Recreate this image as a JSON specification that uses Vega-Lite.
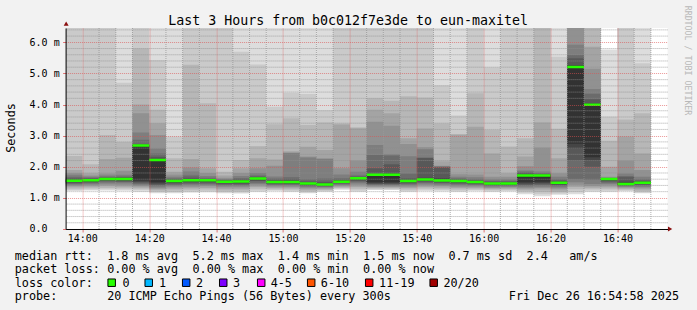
{
"$schema": "https://vega.github.io/schema/vega-lite/v6.json",
"autosize": {"type": "pad"},
"padding": {"left": 5.6, "top": 5, "right": 6, "bottom": 0},
"background": "#f2f2f2",
"spacing": 0,
"bounds": "flush",
"config": {"font": "DejaVu Sans Mono", "view": {"stroke": null}, "axis": {"labelOverlap": false, "labelFlush": false}},
"datasets": {
"smoke": [
{"t":"2025-12-26T13:55","e":"2025-12-26T14:00","p1":1.22,"p2":1.25,"p3":1.29,"p4":1.34,"p5":1.38,"p6":1.42,"p7":1.45,"p8":1.48,"p9":1.51,"p10":1.53,"p11":1.55,"p12":1.59,"p13":1.63,"p14":1.68,"p15":1.74,"p16":1.80,"p17":1.90,"p18":2.35,"p19":7,"p20":7},
{"t":"2025-12-26T14:00","e":"2025-12-26T14:05","p1":1.24,"p2":1.27,"p3":1.31,"p4":1.36,"p5":1.40,"p6":1.44,"p7":1.47,"p8":1.50,"p9":1.53,"p10":1.55,"p11":1.57,"p12":1.60,"p13":1.62,"p14":1.65,"p15":1.68,"p16":1.72,"p17":1.79,"p18":2.08,"p19":7,"p20":7},
{"t":"2025-12-26T14:05","e":"2025-12-26T14:10","p1":1.24,"p2":1.28,"p3":1.32,"p4":1.37,"p5":1.42,"p6":1.46,"p7":1.50,"p8":1.54,"p9":1.57,"p10":1.59,"p11":1.61,"p12":1.63,"p13":1.65,"p14":1.68,"p15":1.72,"p16":1.78,"p17":2.25,"p18":3.02,"p19":7,"p20":7},
{"t":"2025-12-26T14:10","e":"2025-12-26T14:15","p1":1.23,"p2":1.27,"p3":1.31,"p4":1.36,"p5":1.41,"p6":1.46,"p7":1.50,"p8":1.53,"p9":1.56,"p10":1.59,"p11":1.61,"p12":1.63,"p13":1.66,"p14":1.69,"p15":1.74,"p16":1.87,"p17":2.29,"p18":2.80,"p19":4.70,"p20":7},
{"t":"2025-12-26T14:15","e":"2025-12-26T14:20","p1":1.20,"p2":1.25,"p3":1.29,"p4":1.33,"p5":1.37,"p6":1.41,"p7":1.45,"p8":1.49,"p9":1.52,"p10":1.56,"p11":2.68,"p12":2.70,"p13":2.73,"p14":2.87,"p15":3.10,"p16":3.72,"p17":4.00,"p18":5.80,"p19":7,"p20":7},
{"t":"2025-12-26T14:20","e":"2025-12-26T14:25","p1":1.15,"p2":1.19,"p3":1.23,"p4":1.27,"p5":1.30,"p6":1.34,"p7":1.38,"p8":1.42,"p9":1.46,"p10":1.50,"p11":2.22,"p12":2.26,"p13":2.32,"p14":2.43,"p15":2.59,"p16":3.02,"p17":3.40,"p18":3.83,"p19":5.43,"p20":7},
{"t":"2025-12-26T14:25","e":"2025-12-26T14:30","p1":1.15,"p2":1.19,"p3":1.24,"p4":1.29,"p5":1.34,"p6":1.38,"p7":1.42,"p8":1.46,"p9":1.49,"p10":1.52,"p11":1.54,"p12":1.57,"p13":1.60,"p14":1.63,"p15":1.68,"p16":1.75,"p17":1.84,"p18":2.27,"p19":2.97,"p20":7},
{"t":"2025-12-26T14:30","e":"2025-12-26T14:35","p1":1.17,"p2":1.21,"p3":1.26,"p4":1.31,"p5":1.36,"p6":1.41,"p7":1.45,"p8":1.49,"p9":1.52,"p10":1.55,"p11":1.57,"p12":1.61,"p13":1.65,"p14":1.72,"p15":1.85,"p16":1.98,"p17":2.25,"p18":5.28,"p19":7,"p20":7},
{"t":"2025-12-26T14:35","e":"2025-12-26T14:40","p1":1.18,"p2":1.22,"p3":1.27,"p4":1.32,"p5":1.37,"p6":1.41,"p7":1.45,"p8":1.49,"p9":1.52,"p10":1.55,"p11":1.57,"p12":1.59,"p13":1.61,"p14":1.65,"p15":1.70,"p16":1.80,"p17":1.95,"p18":4.04,"p19":7,"p20":7},
{"t":"2025-12-26T14:40","e":"2025-12-26T14:45","p1":1.15,"p2":1.19,"p3":1.23,"p4":1.28,"p5":1.33,"p6":1.37,"p7":1.41,"p8":1.45,"p9":1.48,"p10":1.50,"p11":1.52,"p12":1.54,"p13":1.56,"p14":1.58,"p15":1.61,"p16":1.65,"p17":1.72,"p18":1.84,"p19":7,"p20":7},
{"t":"2025-12-26T14:45","e":"2025-12-26T14:50","p1":1.14,"p2":1.18,"p3":1.23,"p4":1.28,"p5":1.33,"p6":1.37,"p7":1.41,"p8":1.45,"p9":1.48,"p10":1.51,"p11":1.53,"p12":1.56,"p13":1.60,"p14":1.64,"p15":1.70,"p16":1.80,"p17":1.95,"p18":2.22,"p19":5.70,"p20":7},
{"t":"2025-12-26T14:50","e":"2025-12-26T14:55","p1":1.20,"p2":1.24,"p3":1.29,"p4":1.35,"p5":1.40,"p6":1.45,"p7":1.49,"p8":1.54,"p9":1.57,"p10":1.60,"p11":1.62,"p12":1.65,"p13":1.68,"p14":1.72,"p15":1.80,"p16":1.95,"p17":2.27,"p18":2.67,"p19":5.29,"p20":7},
{"t":"2025-12-26T14:55","e":"2025-12-26T15:00","p1":1.22,"p2":1.25,"p3":1.28,"p4":1.32,"p5":1.36,"p6":1.39,"p7":1.42,"p8":1.45,"p9":1.48,"p10":1.50,"p11":1.51,"p12":1.54,"p13":1.58,"p14":1.62,"p15":1.69,"p16":2.03,"p17":2.23,"p18":3.37,"p19":3.93,"p20":7},
{"t":"2025-12-26T15:00","e":"2025-12-26T15:05","p1":1.20,"p2":1.23,"p3":1.27,"p4":1.31,"p5":1.35,"p6":1.39,"p7":1.42,"p8":1.45,"p9":1.47,"p10":1.49,"p11":1.51,"p12":1.55,"p13":1.60,"p14":1.66,"p15":2.44,"p16":2.46,"p17":2.50,"p18":3.56,"p19":4.37,"p20":7},
{"t":"2025-12-26T15:05","e":"2025-12-26T15:10","p1":1.15,"p2":1.18,"p3":1.22,"p4":1.26,"p5":1.30,"p6":1.34,"p7":1.37,"p8":1.40,"p9":1.42,"p10":1.44,"p11":1.46,"p12":1.49,"p13":1.53,"p14":1.60,"p15":2.30,"p16":2.33,"p17":2.64,"p18":3.34,"p19":4.34,"p20":7},
{"t":"2025-12-26T15:10","e":"2025-12-26T15:15","p1":1.20,"p2":1.22,"p3":1.25,"p4":1.28,"p5":1.31,"p6":1.34,"p7":1.36,"p8":1.38,"p9":1.40,"p10":1.42,"p11":1.43,"p12":1.46,"p13":1.52,"p14":1.62,"p15":2.25,"p16":2.27,"p17":2.54,"p18":3.42,"p19":3.82,"p20":7},
{"t":"2025-12-26T15:15","e":"2025-12-26T15:20","p1":1.26,"p2":1.29,"p3":1.32,"p4":1.35,"p5":1.38,"p6":1.42,"p7":1.44,"p8":1.47,"p9":1.49,"p10":1.51,"p11":1.52,"p12":1.55,"p13":1.58,"p14":1.63,"p15":1.75,"p16":1.95,"p17":3.36,"p18":3.39,"p19":7,"p20":7},
{"t":"2025-12-26T15:20","e":"2025-12-26T15:25","p1":1.20,"p2":1.24,"p3":1.29,"p4":1.35,"p5":1.41,"p6":1.46,"p7":1.50,"p8":1.54,"p9":1.58,"p10":1.61,"p11":1.63,"p12":1.65,"p13":1.68,"p14":1.72,"p15":1.84,"p16":2.20,"p17":3.24,"p18":3.27,"p19":7,"p20":7},
{"t":"2025-12-26T15:25","e":"2025-12-26T15:30","p1":1.25,"p2":1.27,"p3":1.30,"p4":1.33,"p5":1.36,"p6":1.39,"p7":1.42,"p8":1.45,"p9":1.47,"p10":1.50,"p11":1.74,"p12":1.77,"p13":1.95,"p14":2.38,"p15":2.70,"p16":3.45,"p17":3.83,"p18":4.20,"p19":7,"p20":7},
{"t":"2025-12-26T15:30","e":"2025-12-26T15:35","p1":1.25,"p2":1.27,"p3":1.30,"p4":1.33,"p5":1.36,"p6":1.39,"p7":1.42,"p8":1.45,"p9":1.47,"p10":1.50,"p11":1.74,"p12":1.79,"p13":2.08,"p14":2.36,"p15":2.40,"p16":3.32,"p17":3.72,"p18":4.12,"p19":7,"p20":7},
{"t":"2025-12-26T15:35","e":"2025-12-26T15:40","p1":1.20,"p2":1.23,"p3":1.27,"p4":1.32,"p5":1.36,"p6":1.40,"p7":1.44,"p8":1.47,"p9":1.50,"p10":1.52,"p11":1.54,"p12":1.58,"p13":1.63,"p14":1.78,"p15":2.34,"p16":2.73,"p17":2.92,"p18":4.27,"p19":7,"p20":7},
{"t":"2025-12-26T15:40","e":"2025-12-26T15:45","p1":1.22,"p2":1.26,"p3":1.30,"p4":1.35,"p5":1.40,"p6":1.44,"p7":1.48,"p8":1.52,"p9":1.55,"p10":1.57,"p11":1.59,"p12":1.65,"p13":2.28,"p14":2.30,"p15":2.56,"p16":2.63,"p17":3.23,"p18":4.23,"p19":7,"p20":7},
{"t":"2025-12-26T15:45","e":"2025-12-26T15:50","p1":1.21,"p2":1.25,"p3":1.29,"p4":1.33,"p5":1.38,"p6":1.42,"p7":1.46,"p8":1.49,"p9":1.52,"p10":1.54,"p11":1.56,"p12":1.64,"p13":1.98,"p14":2.00,"p15":2.02,"p16":2.03,"p17":2.18,"p18":3.39,"p19":4.62,"p20":7},
{"t":"2025-12-26T15:50","e":"2025-12-26T15:55","p1":1.20,"p2":1.23,"p3":1.27,"p4":1.32,"p5":1.36,"p6":1.40,"p7":1.44,"p8":1.47,"p9":1.50,"p10":1.52,"p11":1.54,"p12":1.57,"p13":1.60,"p14":1.63,"p15":1.68,"p16":1.76,"p17":3.03,"p18":3.05,"p19":3.65,"p20":7},
{"t":"2025-12-26T15:55","e":"2025-12-26T16:00","p1":1.22,"p2":1.25,"p3":1.28,"p4":1.32,"p5":1.36,"p6":1.39,"p7":1.42,"p8":1.45,"p9":1.48,"p10":1.50,"p11":1.51,"p12":1.53,"p13":1.56,"p14":1.60,"p15":1.66,"p16":1.75,"p17":3.29,"p18":4.36,"p19":7,"p20":7},
{"t":"2025-12-26T16:00","e":"2025-12-26T16:05","p1":1.20,"p2":1.23,"p3":1.26,"p4":1.29,"p5":1.32,"p6":1.36,"p7":1.38,"p8":1.41,"p9":1.43,"p10":1.45,"p11":1.46,"p12":1.49,"p13":1.52,"p14":1.55,"p15":1.60,"p16":1.68,"p17":2.43,"p18":3.18,"p19":5.19,"p20":7},
{"t":"2025-12-26T16:05","e":"2025-12-26T16:10","p1":1.21,"p2":1.24,"p3":1.27,"p4":1.30,"p5":1.33,"p6":1.36,"p7":1.39,"p8":1.41,"p9":1.43,"p10":1.45,"p11":1.46,"p12":1.49,"p13":1.52,"p14":1.55,"p15":1.60,"p16":1.68,"p17":1.79,"p18":2.65,"p19":7,"p20":7},
{"t":"2025-12-26T16:10","e":"2025-12-26T16:15","p1":1.12,"p2":1.17,"p3":1.22,"p4":1.26,"p5":1.30,"p6":1.34,"p7":1.38,"p8":1.42,"p9":1.46,"p10":1.50,"p11":1.72,"p12":1.75,"p13":1.80,"p14":1.84,"p15":1.88,"p16":2.02,"p17":2.33,"p18":2.92,"p19":7,"p20":7},
{"t":"2025-12-26T16:15","e":"2025-12-26T16:20","p1":1.05,"p2":1.12,"p3":1.20,"p4":1.27,"p5":1.32,"p6":1.36,"p7":1.40,"p8":1.44,"p9":1.48,"p10":1.52,"p11":1.72,"p12":1.74,"p13":1.77,"p14":1.80,"p15":1.85,"p16":2.62,"p17":3.42,"p18":7,"p19":7,"p20":7},
{"t":"2025-12-26T16:20","e":"2025-12-26T16:25","p1":1.10,"p2":1.14,"p3":1.19,"p4":1.24,"p5":1.29,"p6":1.33,"p7":1.37,"p8":1.41,"p9":1.44,"p10":1.47,"p11":1.49,"p12":1.52,"p13":1.55,"p14":1.60,"p15":1.68,"p16":1.79,"p17":2.27,"p18":3.22,"p19":5.54,"p20":7},
{"t":"2025-12-26T16:25","e":"2025-12-26T16:30","p1":1.12,"p2":1.20,"p3":1.28,"p4":1.35,"p5":1.42,"p6":1.50,"p7":1.60,"p8":2.20,"p9":2.59,"p10":2.74,"p11":5.21,"p12":5.27,"p13":5.49,"p14":5.59,"p15":5.92,"p16":7,"p17":7,"p18":7,"p19":7,"p20":7},
{"t":"2025-12-26T16:30","e":"2025-12-26T16:35","p1":1.20,"p2":1.24,"p3":1.29,"p4":1.33,"p5":1.38,"p6":1.45,"p7":1.58,"p8":2.00,"p9":2.20,"p10":2.31,"p11":3.99,"p12":4.04,"p13":4.17,"p14":4.35,"p15":4.50,"p16":5.15,"p17":5.86,"p18":7,"p19":7,"p20":7},
{"t":"2025-12-26T16:35","e":"2025-12-26T16:40","p1":1.20,"p2":1.24,"p3":1.29,"p4":1.34,"p5":1.40,"p6":1.45,"p7":1.49,"p8":1.53,"p9":1.56,"p10":1.59,"p11":1.61,"p12":1.62,"p13":1.63,"p14":1.64,"p15":1.65,"p16":1.68,"p17":2.00,"p18":2.84,"p19":3.61,"p20":5.77},
{"t":"2025-12-26T16:40","e":"2025-12-26T16:45","p1":1.22,"p2":1.24,"p3":1.27,"p4":1.30,"p5":1.33,"p6":1.36,"p7":1.38,"p8":1.40,"p9":1.42,"p10":1.44,"p11":1.45,"p12":1.52,"p13":1.66,"p14":1.70,"p15":1.78,"p16":2.20,"p17":2.97,"p18":3.52,"p19":7,"p20":7},
{"t":"2025-12-26T16:45","e":"2025-12-26T16:50","p1":1.15,"p2":1.18,"p3":1.22,"p4":1.27,"p5":1.31,"p6":1.35,"p7":1.39,"p8":1.42,"p9":1.45,"p10":1.47,"p11":1.49,"p12":1.52,"p13":1.55,"p14":1.60,"p15":1.68,"p16":1.90,"p17":2.43,"p18":3.72,"p19":5.33,"p20":7}
],
"gx": [
{"g":"2025-12-26T14:05"},{"g":"2025-12-26T14:10"},{"g":"2025-12-26T14:15"},{"g":"2025-12-26T14:25"},{"g":"2025-12-26T14:30"},{"g":"2025-12-26T14:35"},
{"g":"2025-12-26T14:45"},{"g":"2025-12-26T14:50"},{"g":"2025-12-26T14:55"},{"g":"2025-12-26T15:05"},{"g":"2025-12-26T15:10"},{"g":"2025-12-26T15:15"},
{"g":"2025-12-26T15:25"},{"g":"2025-12-26T15:30"},{"g":"2025-12-26T15:35"},{"g":"2025-12-26T15:45"},{"g":"2025-12-26T15:50"},{"g":"2025-12-26T15:55"},
{"g":"2025-12-26T16:05"},{"g":"2025-12-26T16:10"},{"g":"2025-12-26T16:15"},{"g":"2025-12-26T16:25"},{"g":"2025-12-26T16:30"},{"g":"2025-12-26T16:35"},
{"g":"2025-12-26T16:45"},{"g":"2025-12-26T16:50"}
],
"gy": [
{"g":0.2},{"g":0.4},{"g":0.6},{"g":0.8},{"g":1.2},{"g":1.4},{"g":1.6},{"g":1.8},{"g":2.2},{"g":2.4},{"g":2.6},{"g":2.8},{"g":3.2},{"g":3.4},{"g":3.6},{"g":3.8},
{"g":4.2},{"g":4.4},{"g":4.6},{"g":4.8},{"g":5.2},{"g":5.4},{"g":5.6},{"g":5.8},{"g":6.2},{"g":6.4}
],
"txt": [
{"line":1,"col":0,"txt":"median rtt:"},{"line":1,"col":13,"txt":"1.8 ms avg"},{"line":1,"col":25,"txt":"5.2 ms max"},{"line":1,"col":37,"txt":"1.4 ms min"},{"line":1,"col":49,"txt":"1.5 ms now"},{"line":1,"col":61,"txt":"0.7 ms sd"},{"line":1,"col":72,"txt":"2.4"},{"line":1,"col":78,"txt":"am/s"},
{"line":2,"col":0,"txt":"packet loss:"},{"line":2,"col":13,"txt":"0.00 % avg"},{"line":2,"col":25,"txt":"0.00 % max"},{"line":2,"col":37,"txt":"0.00 % min"},{"line":2,"col":49,"txt":"0.00 % now"},
{"line":3,"col":0,"txt":"loss color:"},
{"line":4,"col":0,"txt":"probe:"},{"line":4,"col":13,"txt":"20 ICMP Echo Pings (56 Bytes) every 300s"},{"line":4,"col":69.5,"txt":"Fri Dec 26 16:54:58 2025"}
],
"loss": [
{"lbl":"0","sq":13.64,"tx":15.15,"line":3},
{"lbl":"1","sq":18.85,"tx":20.3,"line":3},
{"lbl":"2","sq":24.12,"tx":25.5,"line":3},
{"lbl":"3","sq":29.33,"tx":30.7,"line":3},
{"lbl":"4-5","sq":34.67,"tx":36.0,"line":3},
{"lbl":"6-10","sq":41.7,"tx":43.05,"line":3},
{"lbl":"11-19","sq":49.86,"tx":51.25,"line":3},
{"lbl":"20/20","sq":58.93,"tx":60.3,"line":3}
]
},
"vconcat": [
{
"width": 602, "height": 201,
"view": {"fill": "#ffffff", "stroke": null},
"data": {"name": "smoke"},
"layer": [
{"mark": {"type": "rect", "clip": true, "color": "#dddddd"},
 "encoding": {
  "x": {"field": "t", "type": "temporal",
        "scale": {"domain": [{"year":2025,"month":12,"date":26,"hours":13,"minutes":55},{"year":2025,"month":12,"date":26,"hours":16,"minutes":55}]},
        "axis": {"orient": "bottom", "title": null, "zindex": 1,
          "values": [
{"year":2025,"month":12,"date":26,"hours":14,"minutes":0},{"year":2025,"month":12,"date":26,"hours":14,"minutes":20},{"year":2025,"month":12,"date":26,"hours":14,"minutes":40},
{"year":2025,"month":12,"date":26,"hours":15,"minutes":0},{"year":2025,"month":12,"date":26,"hours":15,"minutes":20},{"year":2025,"month":12,"date":26,"hours":15,"minutes":40},
{"year":2025,"month":12,"date":26,"hours":16,"minutes":0},{"year":2025,"month":12,"date":26,"hours":16,"minutes":20},{"year":2025,"month":12,"date":26,"hours":16,"minutes":40}],
          "format": "%H:%M",
          "grid": true, "gridColor": "rgba(222,80,80,0.6)", "gridDash": [1, 1], "gridWidth": 1,
          "ticks": true, "tickSize": 3, "tickWidth": 1, "tickColor": "rgba(222,80,80,0.8)",
          "domain": true, "domainColor": "#000000", "domainWidth": 1,
          "labelFont": "DejaVu Sans Mono", "labelFontSize": 10, "labelColor": "#000000",
          "labelBaseline": "alphabetic", "labelAlign": "center", "labelPadding": 9.5,
          "labelOverlap": false, "labelFlush": false}},
  "x2": {"field": "e"},
  "y": {"field": "p1", "type": "quantitative",
        "scale": {"domain": [0, 6.46], "nice": false, "zero": false},
        "axis": {"title": "Seconds", "titleFont": "DejaVu Sans Mono", "titleFontSize": 11.8, "titleFontWeight": "normal", "titleColor": "#000000",
          "titleX": -51, "titleY": 99.5, "titleAngle": 270, "titleAlign": "center", "titleBaseline": "alphabetic",
          "zindex": 1,
          "values": [0, 1, 2, 3, 4, 5, 6], "tickCount": 7,
          "labelExpr": "datum.value === 0 ? '0.0' : format(datum.value, '.1f') + ' m'",
          "grid": true, "gridColor": "rgba(222,80,80,0.6)", "gridDash": [1, 1], "gridWidth": 1,
          "ticks": true, "tickSize": 3, "tickWidth": 1, "tickColor": "rgba(222,80,80,0.8)",
          "domain": true, "domainColor": "#000000", "domainWidth": 1,
          "labelFont": "DejaVu Sans Mono", "labelFontSize": 10, "labelColor": "#000000",
          "labelAlign": "left", "labelBaseline": "middle", "labelPadding": 33.5,
          "labelOverlap": false, "labelFlush": false, "labelSeparation": 0}},
  "y2": {"field": "p20"}}},
{"mark": {"type": "rect", "clip": true, "color": "#cacaca"},
 "encoding": {"x": {"field": "t", "type": "temporal"}, "x2": {"field": "e"},
  "y": {"field": "p2", "type": "quantitative", "scale": {"domain": [0, 6.46], "nice": false, "zero": false}}, "y2": {"field": "p19"}}},
{"mark": {"type": "rect", "clip": true, "color": "#b7b7b7"},
 "encoding": {"x": {"field": "t", "type": "temporal"}, "x2": {"field": "e"},
  "y": {"field": "p3", "type": "quantitative", "scale": {"domain": [0, 6.46], "nice": false, "zero": false}}, "y2": {"field": "p18"}}},
{"mark": {"type": "rect", "clip": true, "color": "#a4a4a4"},
 "encoding": {"x": {"field": "t", "type": "temporal"}, "x2": {"field": "e"},
  "y": {"field": "p4", "type": "quantitative", "scale": {"domain": [0, 6.46], "nice": false, "zero": false}}, "y2": {"field": "p17"}}},
{"mark": {"type": "rect", "clip": true, "color": "#919191"},
 "encoding": {"x": {"field": "t", "type": "temporal"}, "x2": {"field": "e"},
  "y": {"field": "p5", "type": "quantitative", "scale": {"domain": [0, 6.46], "nice": false, "zero": false}}, "y2": {"field": "p16"}}},
{"mark": {"type": "rect", "clip": true, "color": "#7e7e7e"},
 "encoding": {"x": {"field": "t", "type": "temporal"}, "x2": {"field": "e"},
  "y": {"field": "p6", "type": "quantitative", "scale": {"domain": [0, 6.46], "nice": false, "zero": false}}, "y2": {"field": "p15"}}},
{"mark": {"type": "rect", "clip": true, "color": "#6b6b6b"},
 "encoding": {"x": {"field": "t", "type": "temporal"}, "x2": {"field": "e"},
  "y": {"field": "p7", "type": "quantitative", "scale": {"domain": [0, 6.46], "nice": false, "zero": false}}, "y2": {"field": "p14"}}},
{"mark": {"type": "rect", "clip": true, "color": "#585858"},
 "encoding": {"x": {"field": "t", "type": "temporal"}, "x2": {"field": "e"},
  "y": {"field": "p8", "type": "quantitative", "scale": {"domain": [0, 6.46], "nice": false, "zero": false}}, "y2": {"field": "p13"}}},
{"mark": {"type": "rect", "clip": true, "color": "#454545"},
 "encoding": {"x": {"field": "t", "type": "temporal"}, "x2": {"field": "e"},
  "y": {"field": "p9", "type": "quantitative", "scale": {"domain": [0, 6.46], "nice": false, "zero": false}}, "y2": {"field": "p12"}}},
{"mark": {"type": "rect", "clip": true, "color": "#323232"},
 "encoding": {"x": {"field": "t", "type": "temporal"}, "x2": {"field": "e"},
  "y": {"field": "p10", "type": "quantitative", "scale": {"domain": [0, 6.46], "nice": false, "zero": false}}, "y2": {"field": "p11"}}},
{"data": {"name": "gx"},
 "mark": {"type": "rule", "color": "rgba(143,143,143,0.75)", "strokeWidth": 1, "strokeDash": [1, 1]},
 "encoding": {"x": {"field": "g", "type": "temporal"}}},
{"data": {"name": "gy"},
 "mark": {"type": "rule", "color": "rgba(143,143,143,0.75)", "strokeWidth": 1, "strokeDash": [1, 1]},
 "encoding": {"y": {"field": "g", "type": "quantitative", "scale": {"domain": [0, 6.46], "nice": false, "zero": false}}}},
{"mark": {"type": "rule", "clip": true, "color": "#26ff00", "strokeWidth": 2.5},
 "encoding": {"x": {"field": "t", "type": "temporal"}, "x2": {"field": "e"},
  "y": {"field": "p11", "type": "quantitative", "scale": {"domain": [0, 6.46], "nice": false, "zero": false}}}},
{"data": {"values": [{}]},
 "mark": {"type": "point", "shape": "triangle-right", "filled": true, "color": "#8b1010", "size": 25, "opacity": 1, "clip": false},
 "encoding": {"x": {"datum": {"year":2025,"month":12,"date":26,"hours":16,"minutes":55,"seconds":45}, "type": "temporal", "scale": {"domain": [{"year":2025,"month":12,"date":26,"hours":13,"minutes":55},{"year":2025,"month":12,"date":26,"hours":16,"minutes":55}]}},
  "y": {"datum": 0, "type": "quantitative", "scale": {"domain": [0, 6.46], "nice": false, "zero": false}}}},
{"data": {"values": [{}]},
 "mark": {"type": "point", "shape": "triangle-up", "filled": true, "color": "#8b1010", "size": 25, "opacity": 1, "clip": false},
 "encoding": {"x": {"datum": {"year":2025,"month":12,"date":26,"hours":13,"minutes":55,"seconds":10}, "type": "temporal", "scale": {"domain": [{"year":2025,"month":12,"date":26,"hours":13,"minutes":55},{"year":2025,"month":12,"date":26,"hours":16,"minutes":55}]}},
  "y": {"datum": 6.6, "type": "quantitative", "scale": {"domain": [0, 6.46], "nice": false, "zero": false}}}}
]
},
{
"width": 602, "height": 81,
"view": {"fill": null, "stroke": null},
"layer": [
{"data": {"name": "txt"},
 "mark": {"type": "text", "align": "left", "baseline": "middle", "font": "DejaVu Sans Mono", "fontSize": 11.8, "color": "#000000"},
 "encoding": {
  "x": {"field": "col", "type": "quantitative", "scale": {"domain": [7.159, 91.828], "nice": false, "zero": false},
        "axis": {"orient": "top", "title": "Last 3 Hours from b0c012f7e3de to eun-maxitel", "titleX": 282, "titleY": -205, "titleAlign": "center", "titleBaseline": "alphabetic", "titleAngle": 0,
                 "titleFont": "DejaVu Sans Mono", "titleFontSize": 13.3, "titleFontWeight": "normal", "titleColor": "#000000",
                 "labels": false, "ticks": false, "domain": false, "grid": false}},
  "y": {"field": "line", "type": "quantitative", "scale": {"domain": [-0.95, 5.006], "nice": false, "zero": false, "reverse": true},
        "axis": {"orient": "right", "title": "RRDTOOL / TOBI OETIKER", "titleX": 19, "titleY": -169, "titleAngle": 90, "titleAlign": "center", "titleBaseline": "middle",
                 "titleFont": "DejaVu Sans Mono", "titleFontSize": 8.3, "titleFontWeight": "normal", "titleColor": "#b8b8b8",
                 "labels": false, "ticks": false, "domain": false, "grid": false}},
  "text": {"field": "txt"}}},
{"data": {"name": "loss"},
 "mark": {"type": "point", "shape": "square", "filled": true, "size": 56, "stroke": "#000000", "strokeWidth": 1, "opacity": 1},
 "encoding": {
  "x": {"field": "sq", "type": "quantitative", "scale": {"domain": [7.159, 91.828], "nice": false, "zero": false}},
  "y": {"field": "line", "type": "quantitative", "scale": {"domain": [-0.95, 5.006], "nice": false, "zero": false, "reverse": true}},
  "color": {"field": "lbl", "type": "nominal", "scale": {"domain": ["0","1","2","3","4-5","6-10","11-19","20/20"], "range": ["#26ff00","#00b8ff","#0059ff","#7e00ff","#ff00ff","#ff5500","#ff0000","#a10000"]}, "legend": null}}},
{"data": {"name": "loss"},
 "mark": {"type": "text", "align": "left", "baseline": "middle", "font": "DejaVu Sans Mono", "fontSize": 11.8, "color": "#000000"},
 "encoding": {
  "x": {"field": "tx", "type": "quantitative", "scale": {"domain": [7.159, 91.828], "nice": false, "zero": false}},
  "y": {"field": "line", "type": "quantitative", "scale": {"domain": [-0.95, 5.006], "nice": false, "zero": false, "reverse": true}},
  "text": {"field": "lbl"}}}
]
}
]
}
